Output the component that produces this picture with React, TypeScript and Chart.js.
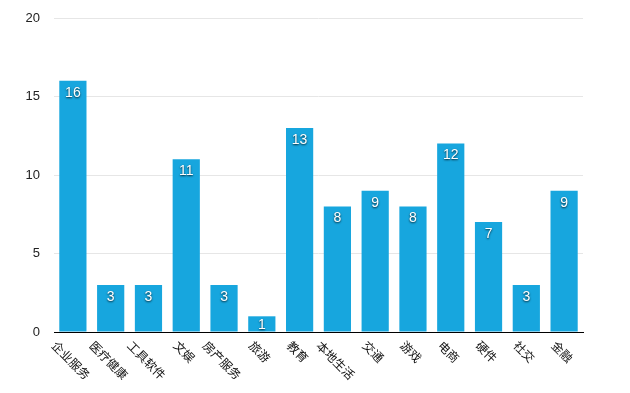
import React, { useEffect, useRef } from "react";
import { Chart, registerables } from "chart.js";

Chart.register(...registerables);

const categories = ["企业服务", "医疗健康", "工具软件", "文娱", "房产服务", "旅游", "教育", "本地生活", "交通", "游戏", "电商", "硬件", "社交", "金融"];
const values = [16, 3, 3, 11, 3, 1, 13, 8, 9, 8, 12, 7, 3, 9];
const yTicks = [0, 5, 10, 15, 20];

const BAR_COLOR = "#17a6de";

const labelsPlugin = {
  id: "customLabels",
  afterDatasetsDraw(chart: any) {
    const ctx = chart.ctx as CanvasRenderingContext2D;
    const meta = chart.getDatasetMeta(0);
    const yScale = chart.scales.y;
    const xScale = chart.scales.x;
    // value labels
    ctx.save();
    ctx.font = "14px 'Liberation Sans', Arial, sans-serif";
    ctx.textAlign = "center";
    ctx.textBaseline = "middle";
    ctx.fillStyle = "#ffffff";
    ctx.shadowColor = "rgba(0,0,0,0.8)";
    ctx.shadowBlur = 2;
    ctx.shadowOffsetX = 0;
    ctx.shadowOffsetY = 1;
    meta.data.forEach((bar: any, i: number) => {
      const top = bar.y;
      const bottom = yScale.getPixelForValue(0);
      const y = Math.min(top + 12, (top + bottom) / 2 + 1);
      ctx.fillText(String(values[i]), bar.x, y);
    });
    ctx.restore();
    // rotated category labels
    ctx.save();
    ctx.font = "12px 'Noto Sans CJK SC', sans-serif";
    ctx.fillStyle = "#111111";
    ctx.textAlign = "center";
    ctx.textBaseline = "middle";
    const axisY = yScale.getPixelForValue(0);
    const h = 12;
    categories.forEach((c, i) => {
      const tx = xScale.getPixelForValue(i);
      const L = ctx.measureText(c).width;
      const cx = tx - 2;
      const cy = axisY + 7 + ((L + h) * Math.SQRT1_2) / 2;
      ctx.save();
      ctx.translate(cx, cy);
      ctx.rotate(Math.PI / 4);
      ctx.fillText(c, 0, 0);
      ctx.restore();
    });
    ctx.restore();
  },
};

export default function App() {
  const ref = useRef<HTMLCanvasElement | null>(null);
  useEffect(() => {
    document.body.style.margin = "0";
    const chart = new Chart(ref.current!, {
      type: "bar",
      data: {
        labels: categories,
        datasets: [
          {
            data: values,
            backgroundColor: BAR_COLOR,
            borderWidth: 0,
            barPercentage: 0.72,
            categoryPercentage: 1,
          },
        ],
      },
      options: {
        animation: false,
        responsive: false,
        layout: { padding: { top: 18, right: 47, left: 0, bottom: 0 } },
        plugins: { legend: { display: false }, tooltip: { enabled: false } },
        scales: {
          x: {
            grid: { display: false, drawTicks: false },
            border: { display: true, color: "#000000", width: 1 },
            ticks: { display: false },
            afterFit: (s: any) => {
              s.height = 61;
            },
          },
          y: {
            min: 0,
            max: 20,
            afterBuildTicks: (s: any) => {
              s.ticks = yTicks.map((v) => ({ value: v }));
            },
            grid: { color: "#e6e6e6", drawTicks: false, lineWidth: 1 },
            border: { display: false },
            ticks: {
              padding: 14,
              color: "#222222",
              font: { family: "'Liberation Sans', Arial, sans-serif", size: 13 },
            },
            afterFit: (s: any) => {
              s.width = 54;
              s.paddingTop = 0;
              s.paddingBottom = 0;
            },
          },
        },
      },
      plugins: [labelsPlugin],
    });
    return () => chart.destroy();
  }, []);
  return (
    <div style={{ width: 630, height: 393, background: "#fff" }}>
      <canvas ref={ref} width={630} height={393} />
    </div>
  );
}
